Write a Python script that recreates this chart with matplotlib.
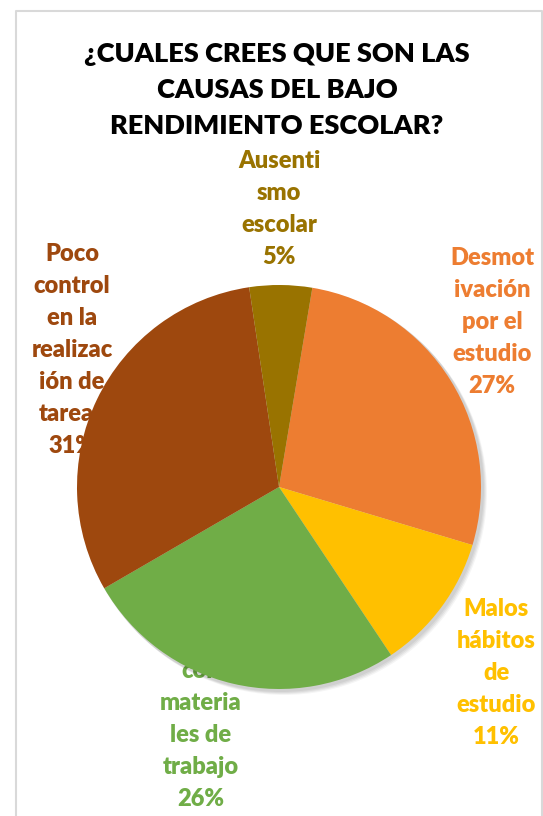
import matplotlib.pyplot as plt
from matplotlib.patches import Circle

# datos
categorias = ["Desmotivación por el estudio", "Malos hábitos de estudio",
              "No cuentan con materiales de trabajo",
              "Poco control en la realización de tareas", "Ausentismo escolar"]
porcentajes = [27, 11, 26, 31, 5]
etiquetas = ["Desmot\nivación\npor el\nestudio",
             "Malos\nhábitos\nde\nestudio",
             "No\ncuentan\ncon\nmateria\nles de\ntrabajo",
             "Poco\ncontrol\nen la\nrealizac\nión de\ntareas",
             "Ausenti\nsmo\nescolar"]
colores = ["#ED7D31", "#FFC000", "#70AD47", "#9E480E", "#997300"]
titulo = "¿CUALES CREES QUE SON LAS\nCAUSAS DEL BAJO\nRENDIMIENTO ESCOLAR?"

W, H = 543, 816
fig = plt.figure(figsize=(W / 100, H / 100), dpi=100)
ax = fig.add_axes([0, 0, 1, 1])

def py(y):
    # pixel desde arriba -> coordenada
    return H - y

cx, cy, r = 279, py(487), 202

# borde del gráfico
ax.plot([15.5, 15.5, 541.5, 541.5], [0, py(10.5), py(10.5), 0],
        color="#D9D9D9", lw=1.5, zorder=0)

# sombra suave
for k, a in enumerate([0.05, 0.05, 0.05, 0.04]):
    ax.add_patch(Circle((cx + 2 + k, cy - 2 - k), r + 1, color="black",
                        alpha=a, lw=0, zorder=2))

wedges, _ = ax.pie(porcentajes, colors=colores, startangle=80.5,
                   counterclock=False, center=(cx, cy), radius=r,
                   wedgeprops=dict(linewidth=0), frame=True)
for w in wedges:
    w.set_zorder(3)
ax.set_xlim(0, W)
ax.set_ylim(0, H)
ax.set_aspect("equal")
ax.axis("off")

# posiciones de etiquetas (centro x, centro y en pixeles)
pos = [(492, 322), (496, 673), (201, 703), (72, 350), (279, 209)]
for txt, p, c, (x, y) in zip(etiquetas, porcentajes, colores, pos):
    ax.text(x, py(y), f"{txt}\n{p}%", color=c, ha="center", va="center",
            fontsize=17, fontweight="heavy", family="Lato",
            linespacing=1.55, zorder=1)

ax.text(277, py(90), titulo, ha="center", va="center", fontsize=19.5,
        fontweight="heavy", family="Lato", color="black", linespacing=1.6)

fig.savefig("out.png", dpi=100, facecolor="white")
